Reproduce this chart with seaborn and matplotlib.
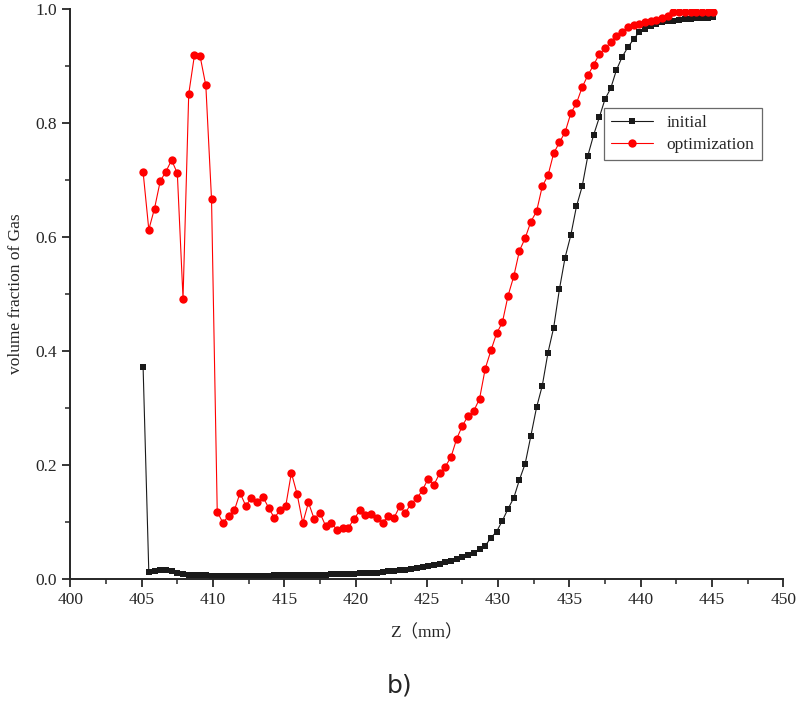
import numpy as np
import pandas as pd
import matplotlib
matplotlib.use("Agg")
import matplotlib.pyplot as plt
from matplotlib.ticker import MultipleLocator
import seaborn as sns

# Z positions (mm), sampled every 0.4 mm
z = np.round(405.1 + 0.4 * np.arange(101), 1)

initial = [
    0.371, 0.012, 0.013, 0.015, 0.016, 0.014, 0.010, 0.008, 0.007, 0.006,
    0.006, 0.006, 0.005, 0.005, 0.005, 0.005, 0.005, 0.005, 0.005, 0.005,
    0.005, 0.005, 0.005, 0.006, 0.006, 0.006, 0.006, 0.006, 0.006, 0.006,
    0.006, 0.007, 0.007, 0.008, 0.008, 0.008, 0.009, 0.009, 0.010, 0.010,
    0.011, 0.011, 0.012, 0.013, 0.014, 0.015, 0.016, 0.017, 0.019, 0.020,
    0.022, 0.024, 0.026, 0.029, 0.032, 0.035, 0.038, 0.041, 0.045, 0.053,
    0.058, 0.072, 0.083, 0.102, 0.123, 0.142, 0.174, 0.202, 0.251, 0.301,
    0.339, 0.397, 0.441, 0.508, 0.564, 0.603, 0.654, 0.689, 0.743, 0.779,
    0.810, 0.842, 0.861, 0.893, 0.916, 0.933, 0.947, 0.960, 0.965, 0.970,
    0.974, 0.977, 0.979, 0.980, 0.981, 0.982, 0.983, 0.984, 0.985, 0.985,
    0.986,
]

optimization = [
    0.714, 0.613, 0.650, 0.698, 0.715, 0.735, 0.712, 0.492, 0.851, 0.919,
    0.917, 0.866, 0.666, 0.118, 0.098, 0.111, 0.120, 0.151, 0.128, 0.142,
    0.134, 0.144, 0.125, 0.107, 0.120, 0.127, 0.186, 0.149, 0.098, 0.134,
    0.105, 0.116, 0.093, 0.098, 0.086, 0.090, 0.090, 0.105, 0.120, 0.112,
    0.114, 0.107, 0.098, 0.111, 0.107, 0.127, 0.116, 0.132, 0.141, 0.156,
    0.176, 0.165, 0.185, 0.197, 0.214, 0.246, 0.269, 0.286, 0.295, 0.316,
    0.369, 0.401, 0.431, 0.450, 0.497, 0.531, 0.576, 0.598, 0.627, 0.645,
    0.689, 0.708, 0.747, 0.766, 0.784, 0.817, 0.835, 0.863, 0.884, 0.902,
    0.921, 0.931, 0.942, 0.953, 0.960, 0.968, 0.972, 0.974, 0.977, 0.979,
    0.981, 0.984, 0.988, 0.995, 0.995, 0.995, 0.995, 0.995, 0.995, 0.995,
    0.995,
]

df = pd.DataFrame({"z": z, "initial": initial, "optimization": optimization})

sns.set_style("ticks")
plt.rcParams["font.family"] = ["Liberation Serif", "Noto Sans CJK SC"]

fig = plt.figure(figsize=(8, 7.05), dpi=100)
ax = fig.add_axes([0.088, 0.179, 0.891, 0.808])

sns.lineplot(data=df, x="z", y="initial", ax=ax, color="#1a1a1a", lw=0.8,
             marker="s", markersize=4.5, markeredgewidth=0, label="initial")
sns.lineplot(data=df, x="z", y="optimization", ax=ax, color="#ff0000", lw=0.8,
             marker="o", markersize=6, markeredgewidth=0, label="optimization")

ax.set_xlim(400, 450)
ax.set_ylim(0, 1.0)
ax.xaxis.set_major_locator(MultipleLocator(5))
ax.xaxis.set_minor_locator(MultipleLocator(2.5))
ax.yaxis.set_major_locator(MultipleLocator(0.2))
ax.yaxis.set_minor_locator(MultipleLocator(0.1))
ax.tick_params(which="major", length=6, width=1.3, labelsize=12.5, direction="out")
ax.tick_params(which="minor", length=3.5, width=1.1, direction="out")
for s in ["left", "bottom"]:
    ax.spines[s].set_linewidth(1.4)
sns.despine(ax=ax)

ax.set_xlabel("Z（mm）", fontsize=12.5, labelpad=12)
ax.set_ylabel("volume fraction of Gas", fontsize=12.5, labelpad=8)

leg = ax.legend(loc="upper right", bbox_to_anchor=(0.982, 0.842), fontsize=12.5,
                frameon=True, fancybox=False, edgecolor="#444444",
                handlelength=2.4, borderpad=0.4, labelspacing=0.35)
leg.get_frame().set_linewidth(0.9)

fig.text(0.5, 0.028, "b)", ha="center", va="center", fontsize=18,
         family="DejaVu Sans")

fig.savefig("out.png", dpi=100)
